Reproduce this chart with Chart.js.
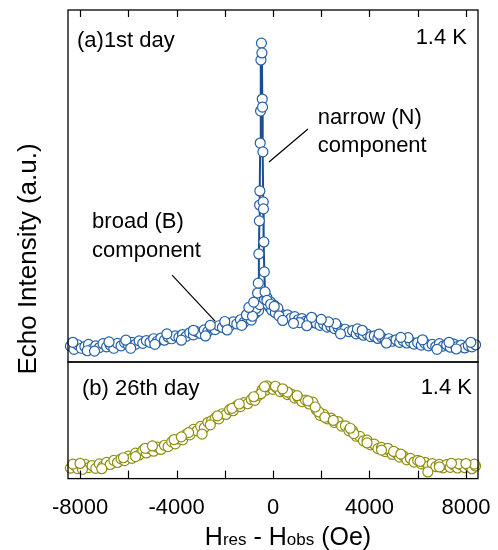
<!DOCTYPE html>
<html>
<head>
<meta charset="utf-8">
<script src="https://cdn.jsdelivr.net/npm/chart.js@4.4.1/dist/chart.umd.min.js"></script>
<style>
  html, body { margin:0; padding:0; background:#fff; }
  #wrap { position:relative; width:498px; height:550px; }
  #wrap canvas { position:absolute; left:0; top:0; }
</style>
</head>
<body>
<div id="wrap">
  <canvas id="top-panel" width="498" height="550" style="width:498px;height:550px"></canvas>
  <canvas id="bottom-panel" width="498" height="550" style="width:498px;height:550px"></canvas>
</div>
<script>
// field axis ticks (Oe); labels only every 4000
const xTicks = [-8000, -6000, -4000, -2000, 0, 2000, 4000, 6000, 8000];
const xLabelled = [-8000, -4000, 0, 4000, 8000];

// (a) 1st day, broad component: [Hres - Hobs (Oe), echo intensity (a.u.)]
const day1Broad = [
  [-8400,4.5],[-8250,3.6],[-8100,4.9],[-7950,3.9],[-7800,4.4],[-7650,5.0],[-7500,3.7],[-7350,4.6],[-7200,4.1],[-7050,5.2],
  [-6900,4.3],[-6750,4.8],[-6600,3.9],[-6450,5.3],[-6300,4.6],[-6150,5.5],[-6000,4.8],[-5850,5.6],[-5700,5.0],[-5550,6.0],
  [-5400,5.3],[-5250,6.1],[-5100,5.6],[-4950,6.6],[-4800,5.9],[-4650,6.8],[-4500,6.2],[-4350,7.1],[-4200,6.6],[-4050,7.4],
  [-3900,7.0],[-3750,7.8],[-3600,7.3],[-3450,8.3],[-3300,7.7],[-3150,8.6],[-3000,8.1],[-2850,9.1],[-2700,8.7],[-2550,9.8],
  [-2400,9.2],[-2250,10.3],[-2100,9.8],[-1950,10.9],[-1800,10.2],[-1650,11.4],[-1500,10.8],[-1350,12.0],[-1200,11.3],[-1050,12.6],
  [-900,11.9],[-750,13.8],[-600,14.6],[-450,17.4],[-300,16.8],[-150,15.6],[0,15.0],[150,14.2],[300,13.8],[450,13.0],
  [600,13.4],[750,12.5],[900,12.9],[1050,12.0],[1200,12.3],[1350,11.6],[1500,11.9],[1650,11.2],[1800,11.0],[1950,10.4],
  [2100,10.8],[2250,9.9],[2400,10.1],[2550,9.5],[2700,9.8],[2850,8.9],[3000,9.3],[3150,8.6],[3300,8.9],[3450,8.0],
  [3600,8.4],[3750,7.6],[3900,7.9],[4050,7.2],[4200,7.4],[4350,6.7],[4500,7.0],[4650,6.3],[4800,6.6],[4950,5.9],
  [5100,6.3],[5250,5.6],[5400,6.0],[5550,5.4],[5700,5.8],[5850,5.1],[6000,5.5],[6150,4.8],[6300,5.3],[6450,4.6],
  [6600,5.0],[6750,4.4],[6900,5.2],[7050,4.5],[7200,4.9],[7350,4.2],[7500,5.1],[7650,4.4],[7800,4.8],[7950,4.0],
  [8100,4.7],[8250,4.3],[8400,4.9],
  [-700,15.2],[-550,16.3],[-500,18.6],[-380,19.0],[-350,17.8],[-250,18.3],[-200,16.2],[-100,17.0],[-50,14.7],[50,16.1],
  [100,14.0],[200,15.3],[250,13.1],[-1100,13.4],[-2000,11.5],[-2600,10.4],[-3300,9.0],[-4400,8.0],[1600,12.7],[2600,10.9],
  [3500,9.4],[4400,7.9],[5600,6.9],[7300,5.6],[-6100,6.2],[-7700,3.2],[1100,11.2],[2300,11.4],
  [-8300,5.6],[-7400,3.1],[-6800,5.7],[-5900,3.9],[-4900,5.0],[-3800,6.2],[-2800,7.4],[-1900,9.1],[-1300,10.4],[-850,13.0],
  [400,11.8],[850,11.0],[1400,10.3],[2000,12.1],[2800,8.0],[3700,9.0],[4700,5.4],[5300,7.0],[6200,6.3],[6800,3.6],
  [7600,3.7],[8200,5.6]
];

// (a) 1st day, narrow component (joined by a line)
const day1Narrow = [
  [-1000,15.5],[-800,17.0],[-640,19.6],[-610,22.4],[-585,30.7],[-565,40.1],[-555,44.6],[-545,48.6],
  [-530,62.2],[-515,71.3],[-500,85.8],[-480,90.6],[-460,87.8],[-445,74.7],[-435,72.4],[-420,59.7],
  [-405,45.5],[-395,43.5],[-380,34.1],[-360,25.6],[-330,19.9],[-250,17.5],[-100,16.4],[50,15.8]
];

// (b) 26th day
const day26 = [
  [-8400,9.0],[-8250,11.8],[-8100,8.6],[-7950,10.9],[-7800,12.3],[-7650,9.4],[-7500,11.2],[-7350,8.8],[-7200,12.6],[-7050,10.7],
  [-6900,13.9],[-6750,12.1],[-6600,15.6],[-6450,13.8],[-6300,16.9],[-6150,15.5],[-6000,19.3],[-5850,17.4],[-5700,21.8],[-5550,20.3],
  [-5400,24.1],[-5250,22.0],[-5100,25.6],[-4950,23.5],[-4800,27.0],[-4650,25.0],[-4500,28.6],[-4350,27.4],[-4200,31.5],[-4050,29.8],
  [-3900,34.0],[-3750,33.2],[-3600,37.9],[-3450,37.5],[-3300,42.2],[-3150,41.0],[-3000,44.8],[-2850,43.6],[-2700,48.3],[-2550,49.5],
  [-2400,51.8],[-2250,51.2],[-2100,55.6],[-1950,55.0],[-1800,59.1],[-1650,58.2],[-1500,62.3],[-1350,61.8],[-1200,65.1],[-1050,64.2],
  [-900,67.9],[-750,67.1],[-600,71.5],[-450,76.2],[-300,75.8],[-150,78.4],[0,76.6],[150,77.9],[300,74.6],[450,75.1],
  [600,72.1],[750,72.5],[900,69.0],[1050,69.2],[1200,66.1],[1350,67.3],[1500,64.0],[1650,65.6],[1800,58.9],[1950,54.3],
  [2100,55.0],[2250,51.2],[2400,51.9],[2550,48.1],[2700,48.9],[2850,45.0],[3000,45.3],[3150,41.0],[3300,41.1],[3450,36.3],
  [3600,36.2],[3750,32.4],[3900,33.0],[4050,29.0],[4200,29.5],[4350,25.7],[4500,26.8],[4650,23.2],[4800,24.4],[4950,20.7],
  [5100,21.9],[5250,18.4],[5400,19.6],[5550,16.1],[5700,17.3],[5850,14.2],[6000,15.6],[6150,12.6],[6300,14.0],[6450,11.0],
  [6600,12.9],[6750,10.3],[6900,12.2],[7050,9.2],[7200,11.9],[7350,9.7],[7500,11.6],[7650,9.1],[7800,11.8],[7950,9.4],
  [8100,11.3],[8250,8.5],[8400,10.8],
  [-2940,38.2],[4760,26.0],[6420,5.7],[-5300,26.0],[-250,79.5],[100,79.2],[-4100,33.5],[-8300,12.5],[-7900,8.0],[1450,66.7],
  [1900,57.2],[2150,52.6],[-1700,60.3],[-2300,53.8],[-3500,39.4],[-5700,18.9],[3350,38.6],[5000,23.3],[7700,12.7],[8350,12.4],
  [600,74.2],[-500,72.8],
  [-8000,13.0],[-7100,8.5],[-6200,17.9],[-5000,28.0],[-3800,35.8],[-2600,46.1],[-1400,64.0],[-800,70.2],[-350,78.9],[400,77.0],
  [1000,71.1],[1750,61.4],[2500,50.0],[3200,43.2],[3900,30.6],[4500,24.5],[5300,21.0],[6100,14.8],[6900,10.0],[7400,13.1],
  [8000,12.9]
];

const FONT = '"Liberation Sans", Arial, Helvetica, sans-serif';
const BLUE = '#2560a6', BLUE_LINE = '#1b4e8e', OLIVE = '#8f8f12';
Chart.defaults.font.family = FONT;
Chart.defaults.color = '#000';

const toXY = arr => arr.map(([x, y]) => ({x, y}));

// frame around the plot area, inward ticks on one edge
const framePlugin = {
  id: 'frame',
  afterDraw(chart, args, opts) {
    const {ctx, chartArea: a, scales: {x}} = chart;
    ctx.save();
    ctx.strokeStyle = '#000';
    ctx.lineWidth = 1.3;
    ctx.strokeRect(a.left, a.top, a.right - a.left, a.bottom - a.top);
    ctx.lineWidth = 1.2;
    xTicks.forEach(v => {
      const px = Math.round(x.getPixelForValue(v)) + 0.5;
      ctx.beginPath();
      if (opts.edge === 'top') { ctx.moveTo(px, a.top); ctx.lineTo(px, a.top + 7); }
      else { ctx.moveTo(px, a.bottom); ctx.lineTo(px, a.bottom - 8); }
      ctx.stroke();
    });
    ctx.restore();
  }
};

const topTextPlugin = {
  id: 'topText',
  afterDraw(chart) {
    const {ctx, chartArea: a, scales: {x, y}} = chart;
    ctx.save();
    ctx.fillStyle = '#000';
    ctx.font = '22px ' + FONT;
    ctx.textAlign = 'left';
    ctx.fillText('(a)1st day', a.left + 9, a.top + 37);
    ctx.textAlign = 'right';
    ctx.fillText('1.4 K', a.right - 11, a.top + 34);

    ctx.textAlign = 'left';
    ctx.fillText('narrow (N)', x.getPixelForValue(1860), y.getPixelForValue(67.6));
    ctx.fillText('component', x.getPixelForValue(1860), y.getPixelForValue(59.7));
    ctx.fillText('broad (B)', x.getPixelForValue(-7500), y.getPixelForValue(38.1));
    ctx.fillText('component', x.getPixelForValue(-7500), y.getPixelForValue(29.8));

    // pointer lines
    ctx.strokeStyle = '#000';
    ctx.lineWidth = 1.2;
    ctx.beginPath();
    ctx.moveTo(x.getPixelForValue(1450), y.getPixelForValue(66.2));
    ctx.lineTo(x.getPixelForValue(-166), y.getPixelForValue(56.8));
    ctx.moveTo(x.getPixelForValue(-4184), y.getPixelForValue(24.7));
    ctx.lineTo(x.getPixelForValue(-2403), y.getPixelForValue(11.6));
    ctx.stroke();
    ctx.restore();
  }
};

const bottomTextPlugin = {
  id: 'bottomText',
  afterDraw(chart) {
    const {ctx, chartArea: a} = chart;
    ctx.save();
    ctx.fillStyle = '#000';
    ctx.font = '22px ' + FONT;
    ctx.textAlign = 'left';
    ctx.fillText('(b) 26th day', a.left + 14, a.top + 33);
    ctx.textAlign = 'right';
    ctx.fillText('1.4 K', a.right - 6, a.top + 32);

    // x title with subscripts
    const parts = [['H', 25], ['res', 17], [' - ', 25], ['H', 25], ['obs', 17], [' (Oe)', 25]];
    let w = 0;
    parts.forEach(([t, s]) => { ctx.font = s + 'px ' + FONT; w += ctx.measureText(t).width; });
    let cx = 288 - w / 2;
    ctx.textAlign = 'left';
    parts.forEach(([t, s]) => {
      ctx.font = s + 'px ' + FONT;
      ctx.fillText(t, cx, 545);
      cx += ctx.measureText(t).width;
    });

    // y title
    ctx.translate(36, 259);
    ctx.rotate(-Math.PI / 2);
    ctx.font = '26px ' + FONT;
    ctx.textAlign = 'center';
    ctx.fillText('Echo Intensity (a.u.)', 0, 0);
    ctx.restore();
  }
};

const pointStyle = color => ({
  pointRadius: 5, pointBorderWidth: 1.2, pointBackgroundColor: '#fff',
  pointBorderColor: color, pointHoverRadius: 5
});

new Chart(document.getElementById('top-panel'), {
  type: 'scatter',
  data: { datasets: [
    { label: 'narrow', data: toXY(day1Narrow), showLine: true, borderColor: BLUE_LINE, borderWidth: 2,
      order: 0, clip: false, ...pointStyle(BLUE) },
    { label: 'broad', data: toXY(day1Broad), showLine: false, order: 1, clip: false, ...pointStyle(BLUE) }
  ]},
  options: {
    responsive: false, animation: false, devicePixelRatio: 1,
    layout: { padding: { left: 68, right: 20, top: 10, bottom: 188 } },
    plugins: { legend: { display: false }, tooltip: { enabled: false }, frame: { edge: 'top' } },
    scales: {
      x: { type: 'linear', min: -8500, max: 8500, display: false },
      y: { type: 'linear', min: 0, max: 100, display: false }
    }
  },
  plugins: [framePlugin, topTextPlugin]
});

new Chart(document.getElementById('bottom-panel'), {
  type: 'scatter',
  data: { datasets: [
    { label: '26th day', data: toXY(day26), showLine: false, clip: false, ...pointStyle(OLIVE) }
  ]},
  options: {
    responsive: false, animation: false, devicePixelRatio: 1,
    layout: { padding: { left: 68, right: 20, top: 362, bottom: 23 } },
    plugins: { legend: { display: false }, tooltip: { enabled: false }, frame: { edge: 'bottom' } },
    scales: {
      x: {
        type: 'linear', min: -8500, max: 8500,
        afterBuildTicks: s => { s.ticks = xTicks.map(v => ({value: v})); },
        grid: { display: true, drawOnChartArea: false, drawTicks: true, tickLength: 10,
                tickColor: 'rgba(0,0,0,0)', color: 'rgba(0,0,0,0)' },
        border: { display: false },
        ticks: {
          padding: 6, font: { size: 22 }, color: '#000', maxRotation: 0, autoSkip: false,
          callback: v => xLabelled.includes(v) ? String(v) : ''
        }
      },
      y: { type: 'linear', min: 0, max: 100, display: false }
    }
  },
  plugins: [framePlugin, bottomTextPlugin]
});
</script>
</body>
</html>
